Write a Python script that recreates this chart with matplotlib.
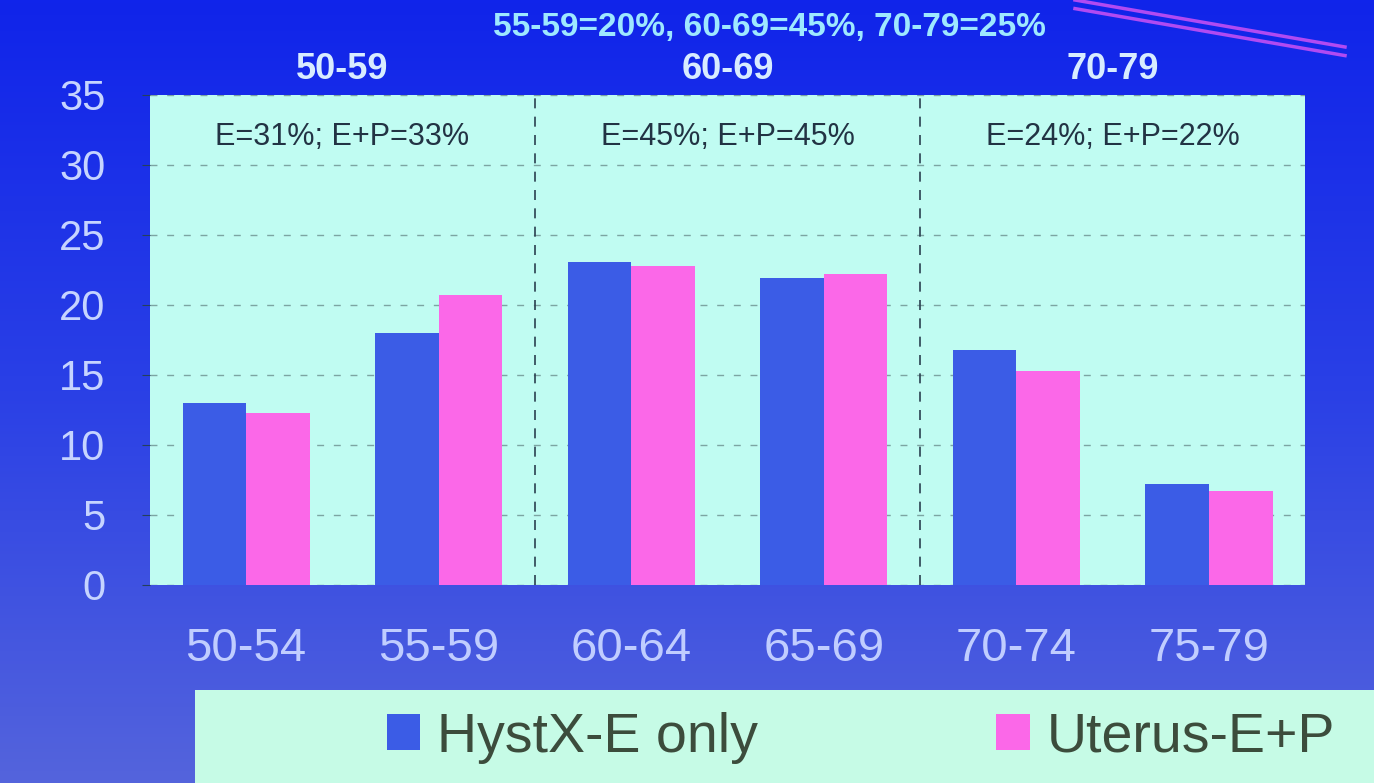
import numpy as np
import matplotlib
matplotlib.use('Agg')
import matplotlib.pyplot as plt
from matplotlib.colors import LinearSegmentedColormap
from matplotlib.patches import Rectangle
from matplotlib.lines import Line2D

age_bands = ['50-54', '55-59', '60-64', '65-69', '70-74', '75-79']
hystx_e_only = [13.0, 18.0, 23.1, 21.9, 16.8, 7.2]
uterus_e_p = [12.3, 20.7, 22.8, 22.2, 15.3, 6.7]
decades = ['50-59', '60-69', '70-79']
decade_notes = ['E=31%; E+P=33%', 'E=45%; E+P=45%', 'E=24%; E+P=22%']
header = '55-59=20%, 60-69=45%, 70-79=25%'

plt.rcParams['font.family'] = ['Liberation Sans', 'DejaVu Sans']

fig = plt.figure(figsize=(13.74, 7.83), dpi=100)

# slide background, deep blue fading to a softer blue at the bottom
bg = fig.add_axes([0, 0, 1, 1], zorder=0)
slide = LinearSegmentedColormap.from_list('slide', ['#1024ea', '#2a40e6', '#5464dc'])
bg.imshow(np.linspace(0, 1, 256).reshape(-1, 1), aspect='auto', cmap=slide,
          extent=[0, 1, 0, 1])
bg.set_xlim(0, 1)
bg.set_ylim(0, 1)
bg.axis('off')

# decorative stripe in the top right corner
for off in (0.0, 0.011):
    fig.add_artist(Line2D([1075 / 1374, 1345 / 1374], [1.0 - off, 0.94 - off],
                          transform=fig.transFigure, color='#b14af2', lw=2.5, zorder=1))

ax = fig.add_axes([0.109, 0.2529, 0.841, 0.6258], zorder=2)
ax.set_facecolor('#c0fcf2')

x = np.arange(len(age_bands))
w = 0.33
ax.bar(x - w / 2, hystx_e_only, w, color='#3b5ce6', label='HystX-E only', zorder=3)
ax.bar(x + w / 2, uterus_e_p, w, color='#fb68e8', label='Uterus-E+P', zorder=3)

ax.set_xlim(-0.5, 5.5)
ax.set_ylim(0, 35)
ax.set_yticks(range(0, 36, 5))
ax.set_xticks(x, age_bands)
ax.yaxis.grid(True, color='#5f8080', linestyle=(0, (5, 7)), lw=1, alpha=0.7)
ax.set_axisbelow(True)
for s in ax.spines.values():
    s.set_visible(False)
ax.tick_params(axis='y', labelsize=30, labelcolor='#c6d4ff', length=6,
               color='#24405a', pad=26)
ax.tick_params(axis='x', labelsize=34, labelcolor='#c0cdff', length=0, pad=30)

for d in (1.5, 3.5):
    ax.axvline(d, color='#2a4050', ls=(0, (6, 5)), lw=1.2, zorder=2)

for i, (dec, note) in enumerate(zip(decades, decade_notes)):
    cx = 2 * i + 0.5
    ax.text(cx, 35.6, dec, ha='center', va='bottom', color='#d8ecff',
            fontsize=26, fontweight='bold', clip_on=False)
    ax.text(cx, 32.0, note, ha='center', va='center', color='#223344', fontsize=22)

fig.text(0.56, 0.965, header, ha='center', va='center', color='#9ee8ff',
         fontsize=24, fontweight='bold')

# legend panel along the bottom edge
fig.add_artist(Rectangle((195 / 1374, 0), 1 - 195 / 1374, 93 / 783,
                         transform=fig.transFigure, facecolor='#c6fbe6',
                         edgecolor='none', zorder=3))
handles, labels = ax.get_legend_handles_labels()
leg = fig.legend(handles, labels, loc='center left', bbox_to_anchor=(0.245, 0.058),
                 ncol=2, frameon=False, fontsize=40, handlelength=0.6,
                 handleheight=0.6, handletextpad=0.3, columnspacing=4.3,
                 labelcolor='#3c4c3c')
leg.set_zorder(4)

fig.savefig('out.png', dpi=100)
